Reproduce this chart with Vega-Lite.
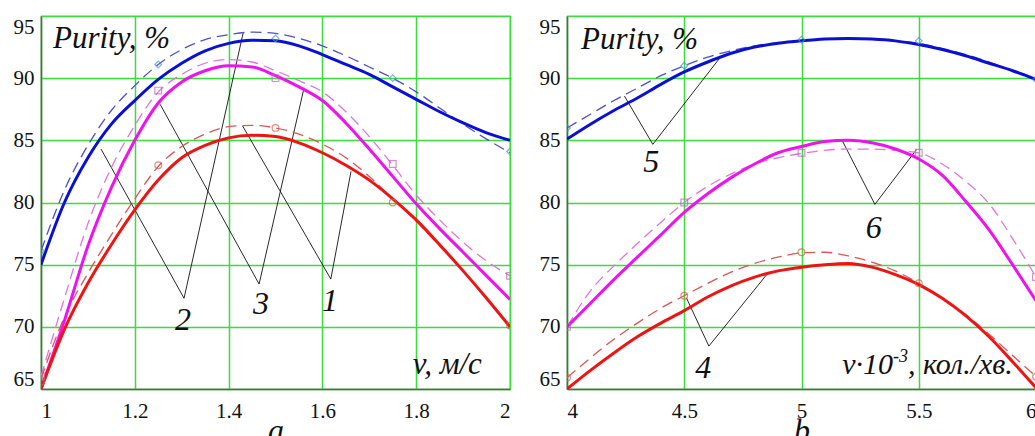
{
  "$schema": "https://vega.github.io/schema/vega-lite/v6.json",
  "padding": {"left": 12, "top": 15, "right": 0, "bottom": 0},
  "background": "white",
  "bounds": "flush",
  "spacing": 57,
  "config": {
    "font": "DejaVu Serif",
    "view": {"stroke": "#808080", "strokeWidth": 1.2},
    "axis": {
      "grid": true, "gridColor": "#3ddc3d", "gridWidth": 1.5, "ticks": false,
      "labelFont": "Liberation Serif", "labelFontSize": 21, "labelColor": "#111111",
      "domainColor": "#606060", "domainWidth": 1.5, "labelFlush": true, "labelOverlap": false,
      "titleFont": "Liberation Serif", "titleFontStyle": "italic", "titleFontWeight": "normal",
      "titleFontSize": 32, "titleColor": "#111111"
    },
    "axisX": {"labelPadding": 11, "titlePadding": -6},
    "axisY": {"labelPadding": 7}
  },
  "datasets": {
    "curvesA": [
      {"x":1,"y":75,"s":"bS"},{"x":1.05,"y":80,"s":"bS"},{"x":1.1,"y":83.6,"s":"bS"},{"x":1.15,"y":86.3,"s":"bS"},{"x":1.2,"y":88.2,"s":"bS"},{"x":1.25,"y":89.9,"s":"bS"},{"x":1.3,"y":91.2,"s":"bS"},{"x":1.35,"y":92.2,"s":"bS"},{"x":1.4,"y":92.8,"s":"bS"},{"x":1.45,"y":93.05,"s":"bS"},{"x":1.5,"y":93.0,"s":"bS"},{"x":1.55,"y":92.6,"s":"bS"},{"x":1.6,"y":91.9,"s":"bS"},{"x":1.65,"y":91.1,"s":"bS"},{"x":1.7,"y":90.3,"s":"bS"},{"x":1.75,"y":89.3,"s":"bS"},{"x":1.8,"y":88.3,"s":"bS"},{"x":1.85,"y":87.3,"s":"bS"},{"x":1.9,"y":86.4,"s":"bS"},{"x":1.95,"y":85.6,"s":"bS"},{"x":2,"y":85.0,"s":"bS"},
      {"x":1,"y":76.1,"s":"bD"},{"x":1.05,"y":81,"s":"bD"},{"x":1.1,"y":84.6,"s":"bD"},{"x":1.15,"y":87.4,"s":"bD"},{"x":1.2,"y":89.4,"s":"bD"},{"x":1.25,"y":91.1,"s":"bD"},{"x":1.3,"y":92.3,"s":"bD"},{"x":1.35,"y":93.1,"s":"bD"},{"x":1.4,"y":93.5,"s":"bD"},{"x":1.45,"y":93.7,"s":"bD"},{"x":1.5,"y":93.6,"s":"bD"},{"x":1.55,"y":93.2,"s":"bD"},{"x":1.6,"y":92.6,"s":"bD"},{"x":1.65,"y":91.8,"s":"bD"},{"x":1.7,"y":90.9,"s":"bD"},{"x":1.75,"y":90.0,"s":"bD"},{"x":1.8,"y":88.9,"s":"bD"},{"x":1.85,"y":87.6,"s":"bD"},{"x":1.9,"y":86.3,"s":"bD"},{"x":1.95,"y":85.1,"s":"bD"},{"x":2,"y":84.0,"s":"bD"},
      {"x":1,"y":65,"s":"mS"},{"x":1.05,"y":70.5,"s":"mS"},{"x":1.1,"y":76.5,"s":"mS"},{"x":1.15,"y":81.2,"s":"mS"},{"x":1.2,"y":85.0,"s":"mS"},{"x":1.25,"y":88.0,"s":"mS"},{"x":1.3,"y":89.7,"s":"mS"},{"x":1.35,"y":90.6,"s":"mS"},{"x":1.4,"y":91.0,"s":"mS"},{"x":1.45,"y":90.9,"s":"mS"},{"x":1.5,"y":90.2,"s":"mS"},{"x":1.55,"y":89.3,"s":"mS"},{"x":1.6,"y":88.2,"s":"mS"},{"x":1.65,"y":86.4,"s":"mS"},{"x":1.7,"y":84.3,"s":"mS"},{"x":1.75,"y":82.1,"s":"mS"},{"x":1.8,"y":79.9,"s":"mS"},{"x":1.85,"y":77.9,"s":"mS"},{"x":1.9,"y":76.0,"s":"mS"},{"x":1.95,"y":74.1,"s":"mS"},{"x":2,"y":72.2,"s":"mS"},
      {"x":1,"y":66,"s":"mD"},{"x":1.05,"y":72.3,"s":"mD"},{"x":1.1,"y":78.3,"s":"mD"},{"x":1.15,"y":82.8,"s":"mD"},{"x":1.2,"y":86.2,"s":"mD"},{"x":1.25,"y":88.9,"s":"mD"},{"x":1.3,"y":90.3,"s":"mD"},{"x":1.35,"y":91.2,"s":"mD"},{"x":1.4,"y":91.5,"s":"mD"},{"x":1.45,"y":91.3,"s":"mD"},{"x":1.5,"y":90.6,"s":"mD"},{"x":1.55,"y":89.8,"s":"mD"},{"x":1.6,"y":88.9,"s":"mD"},{"x":1.65,"y":87.3,"s":"mD"},{"x":1.7,"y":85.3,"s":"mD"},{"x":1.75,"y":83.0,"s":"mD"},{"x":1.8,"y":80.6,"s":"mD"},{"x":1.85,"y":78.6,"s":"mD"},{"x":1.9,"y":76.8,"s":"mD"},{"x":1.95,"y":75.3,"s":"mD"},{"x":2,"y":74.1,"s":"mD"},
      {"x":1,"y":65,"s":"rS"},{"x":1.05,"y":69.8,"s":"rS"},{"x":1.1,"y":73.5,"s":"rS"},{"x":1.15,"y":76.6,"s":"rS"},{"x":1.2,"y":79.4,"s":"rS"},{"x":1.25,"y":81.8,"s":"rS"},{"x":1.3,"y":83.6,"s":"rS"},{"x":1.35,"y":84.6,"s":"rS"},{"x":1.4,"y":85.2,"s":"rS"},{"x":1.45,"y":85.4,"s":"rS"},{"x":1.5,"y":85.3,"s":"rS"},{"x":1.55,"y":84.8,"s":"rS"},{"x":1.6,"y":84.0,"s":"rS"},{"x":1.65,"y":83.0,"s":"rS"},{"x":1.7,"y":81.8,"s":"rS"},{"x":1.75,"y":80.3,"s":"rS"},{"x":1.8,"y":78.6,"s":"rS"},{"x":1.85,"y":76.6,"s":"rS"},{"x":1.9,"y":74.5,"s":"rS"},{"x":1.95,"y":72.3,"s":"rS"},{"x":2,"y":70.0,"s":"rS"},
      {"x":1,"y":65.8,"s":"rD"},{"x":1.05,"y":70.8,"s":"rD"},{"x":1.1,"y":74.3,"s":"rD"},{"x":1.15,"y":77.4,"s":"rD"},{"x":1.2,"y":80.3,"s":"rD"},{"x":1.25,"y":82.9,"s":"rD"},{"x":1.3,"y":84.5,"s":"rD"},{"x":1.35,"y":85.5,"s":"rD"},{"x":1.4,"y":86.1,"s":"rD"},{"x":1.45,"y":86.2,"s":"rD"},{"x":1.5,"y":86.0,"s":"rD"},{"x":1.55,"y":85.5,"s":"rD"},{"x":1.6,"y":84.7,"s":"rD"},{"x":1.65,"y":83.6,"s":"rD"},{"x":1.7,"y":82.1,"s":"rD"},{"x":1.75,"y":80.3,"s":"rD"},{"x":1.8,"y":78.5,"s":"rD"},{"x":1.85,"y":76.5,"s":"rD"},{"x":1.9,"y":74.5,"s":"rD"},{"x":1.95,"y":72.3,"s":"rD"},{"x":2,"y":70.1,"s":"rD"}
    ],
    "curvesB": [
      {"x":4,"y":85.1,"s":"bS"},{"x":4.1,"y":86.3,"s":"bS"},{"x":4.2,"y":87.4,"s":"bS"},{"x":4.3,"y":88.4,"s":"bS"},{"x":4.4,"y":89.5,"s":"bS"},{"x":4.5,"y":90.5,"s":"bS"},{"x":4.6,"y":91.3,"s":"bS"},{"x":4.7,"y":92.0,"s":"bS"},{"x":4.8,"y":92.5,"s":"bS"},{"x":4.9,"y":92.8,"s":"bS"},{"x":5,"y":93.0,"s":"bS"},{"x":5.1,"y":93.15,"s":"bS"},{"x":5.2,"y":93.2,"s":"bS"},{"x":5.3,"y":93.15,"s":"bS"},{"x":5.4,"y":93.0,"s":"bS"},{"x":5.5,"y":92.7,"s":"bS"},{"x":5.6,"y":92.3,"s":"bS"},{"x":5.7,"y":91.8,"s":"bS"},{"x":5.8,"y":91.2,"s":"bS"},{"x":5.9,"y":90.6,"s":"bS"},{"x":6,"y":89.9,"s":"bS"},
      {"x":4,"y":86.0,"s":"bD"},{"x":4.1,"y":87.1,"s":"bD"},{"x":4.2,"y":88.2,"s":"bD"},{"x":4.3,"y":89.2,"s":"bD"},{"x":4.4,"y":90.2,"s":"bD"},{"x":4.5,"y":91.0,"s":"bD"},{"x":4.6,"y":91.7,"s":"bD"},{"x":4.7,"y":92.2,"s":"bD"},{"x":4.8,"y":92.6,"s":"bD"},{"x":4.9,"y":92.85,"s":"bD"},{"x":5,"y":93.0,"s":"bD"},{"x":5.1,"y":93.15,"s":"bD"},{"x":5.2,"y":93.2,"s":"bD"},{"x":5.3,"y":93.15,"s":"bD"},{"x":5.4,"y":93.0,"s":"bD"},{"x":5.5,"y":92.8,"s":"bD"},{"x":5.6,"y":92.4,"s":"bD"},{"x":5.7,"y":91.9,"s":"bD"},{"x":5.8,"y":91.3,"s":"bD"},{"x":5.9,"y":90.6,"s":"bD"},{"x":6,"y":89.9,"s":"bD"},
      {"x":4,"y":70,"s":"mS"},{"x":4.1,"y":71.9,"s":"mS"},{"x":4.2,"y":73.8,"s":"mS"},{"x":4.3,"y":75.6,"s":"mS"},{"x":4.4,"y":77.4,"s":"mS"},{"x":4.5,"y":79.2,"s":"mS"},{"x":4.6,"y":80.7,"s":"mS"},{"x":4.7,"y":82.0,"s":"mS"},{"x":4.8,"y":83.1,"s":"mS"},{"x":4.9,"y":84.0,"s":"mS"},{"x":5,"y":84.5,"s":"mS"},{"x":5.1,"y":84.9,"s":"mS"},{"x":5.2,"y":85.0,"s":"mS"},{"x":5.3,"y":84.8,"s":"mS"},{"x":5.4,"y":84.3,"s":"mS"},{"x":5.5,"y":83.5,"s":"mS"},{"x":5.6,"y":82.2,"s":"mS"},{"x":5.7,"y":80.1,"s":"mS"},{"x":5.8,"y":77.8,"s":"mS"},{"x":5.9,"y":75.0,"s":"mS"},{"x":6,"y":72.1,"s":"mS"},
      {"x":4,"y":70,"s":"mD"},{"x":4.1,"y":72.9,"s":"mD"},{"x":4.2,"y":74.9,"s":"mD"},{"x":4.3,"y":76.7,"s":"mD"},{"x":4.4,"y":78.4,"s":"mD"},{"x":4.5,"y":80.0,"s":"mD"},{"x":4.6,"y":81.3,"s":"mD"},{"x":4.7,"y":82.3,"s":"mD"},{"x":4.8,"y":83.1,"s":"mD"},{"x":4.9,"y":83.6,"s":"mD"},{"x":5,"y":83.95,"s":"mD"},{"x":5.1,"y":84.2,"s":"mD"},{"x":5.2,"y":84.3,"s":"mD"},{"x":5.3,"y":84.3,"s":"mD"},{"x":5.4,"y":84.2,"s":"mD"},{"x":5.5,"y":84.0,"s":"mD"},{"x":5.6,"y":83.1,"s":"mD"},{"x":5.7,"y":81.7,"s":"mD"},{"x":5.8,"y":79.9,"s":"mD"},{"x":5.9,"y":77.1,"s":"mD"},{"x":6,"y":74.0,"s":"mD"},
      {"x":4,"y":65,"s":"rS"},{"x":4.1,"y":66.5,"s":"rS"},{"x":4.2,"y":67.9,"s":"rS"},{"x":4.3,"y":69.2,"s":"rS"},{"x":4.4,"y":70.3,"s":"rS"},{"x":4.5,"y":71.3,"s":"rS"},{"x":4.6,"y":72.4,"s":"rS"},{"x":4.7,"y":73.3,"s":"rS"},{"x":4.8,"y":74.0,"s":"rS"},{"x":4.9,"y":74.5,"s":"rS"},{"x":5,"y":74.8,"s":"rS"},{"x":5.1,"y":75.0,"s":"rS"},{"x":5.2,"y":75.1,"s":"rS"},{"x":5.3,"y":74.8,"s":"rS"},{"x":5.4,"y":74.2,"s":"rS"},{"x":5.5,"y":73.4,"s":"rS"},{"x":5.6,"y":72.3,"s":"rS"},{"x":5.7,"y":70.9,"s":"rS"},{"x":5.8,"y":69.2,"s":"rS"},{"x":5.9,"y":67.2,"s":"rS"},{"x":6,"y":65.1,"s":"rS"},
      {"x":4,"y":65.9,"s":"rD"},{"x":4.1,"y":67.5,"s":"rD"},{"x":4.2,"y":69.0,"s":"rD"},{"x":4.3,"y":70.3,"s":"rD"},{"x":4.4,"y":71.5,"s":"rD"},{"x":4.5,"y":72.5,"s":"rD"},{"x":4.6,"y":73.5,"s":"rD"},{"x":4.7,"y":74.4,"s":"rD"},{"x":4.8,"y":75.1,"s":"rD"},{"x":4.9,"y":75.6,"s":"rD"},{"x":5,"y":75.95,"s":"rD"},{"x":5.1,"y":76.0,"s":"rD"},{"x":5.2,"y":75.7,"s":"rD"},{"x":5.3,"y":75.2,"s":"rD"},{"x":5.4,"y":74.5,"s":"rD"},{"x":5.5,"y":73.5,"s":"rD"},{"x":5.6,"y":72.3,"s":"rD"},{"x":5.7,"y":71.0,"s":"rD"},{"x":5.8,"y":69.4,"s":"rD"},{"x":5.9,"y":67.7,"s":"rD"},{"x":6,"y":66.0,"s":"rD"}
    ],
    "marksA": [
      {"x":1,"y":76.1,"s":"bM"},{"x":1.25,"y":91.1,"s":"bM"},{"x":1.5,"y":93.2,"s":"bM"},{"x":1.75,"y":90.0,"s":"bM"},{"x":2,"y":84.1,"s":"bM"},
      {"x":1,"y":66,"s":"mM"},{"x":1.25,"y":89,"s":"mM"},{"x":1.5,"y":90,"s":"mM"},{"x":1.75,"y":83.1,"s":"mM"},{"x":2,"y":74.1,"s":"mM"},
      {"x":1,"y":65.6,"s":"rM"},{"x":1.25,"y":83,"s":"rM"},{"x":1.5,"y":86,"s":"rM"},{"x":1.75,"y":80,"s":"rM"},{"x":2,"y":70.1,"s":"rM"}
    ],
    "marksB": [
      {"x":4,"y":86,"s":"bM"},{"x":4.5,"y":91,"s":"bM"},{"x":5,"y":93.1,"s":"bM"},{"x":5.5,"y":93,"s":"bM"},{"x":6,"y":89.9,"s":"bM"},
      {"x":4,"y":70,"s":"mM"},{"x":4.5,"y":80,"s":"mM"},{"x":5,"y":84,"s":"mM"},{"x":5.5,"y":84,"s":"mM"},{"x":6,"y":74,"s":"mM"},
      {"x":4,"y":65.9,"s":"rM"},{"x":4.5,"y":72.5,"s":"rM"},{"x":5,"y":76,"s":"rM"},{"x":5.5,"y":73.5,"s":"rM"},{"x":6,"y":66,"s":"rM"}
    ],
    "leadA": [
      {"x":1.128,"y":84.3,"g":"2","o":0},{"x":1.305,"y":72.3,"g":"2","o":1},{"x":1.431,"y":93.63,"g":"2","o":2},
      {"x":1.254,"y":87.9,"g":"3","o":0},{"x":1.465,"y":73.44,"g":"3","o":1},{"x":1.561,"y":89.23,"g":"3","o":2},
      {"x":1.43,"y":86.15,"g":"1","o":0},{"x":1.618,"y":73.84,"g":"1","o":1},{"x":1.661,"y":82.5,"g":"1","o":2}
    ],
    "leadB": [
      {"x":4.245,"y":88.56,"g":"5","o":0},{"x":4.366,"y":84.68,"g":"5","o":1},{"x":4.658,"y":91.78,"g":"5","o":2},
      {"x":5.171,"y":85.08,"g":"6","o":0},{"x":5.313,"y":79.85,"g":"6","o":1},{"x":5.491,"y":84.27,"g":"6","o":2},
      {"x":4.509,"y":72.34,"g":"4","o":0},{"x":4.605,"y":68.45,"g":"4","o":1},{"x":4.858,"y":74.35,"g":"4","o":2}
    ],
    "numA": [{"x":1.303,"y":70.54,"t":"2"},{"x":1.469,"y":71.83,"t":"3"},{"x":1.616,"y":72.07,"t":"1"}],
    "numB": [{"x":4.359,"y":83.25,"t":"5"},{"x":5.308,"y":77.94,"t":"6"},{"x":4.581,"y":66.68,"t":"4"}],
    "headA": [{"x":1.0256,"y":92.43,"t":"Purity, %"}],
    "headB": [{"x":4.06,"y":92.35,"t":"Purity, %"}],
    "unitA": [{"x":1.94,"y":66.2,"t":"v, м/с"}],
    "unitB1": [{"x":5.39,"y":66.2,"t":"v·10"}],
    "unitB2": [{"x":5.39,"y":67.2,"t":"-3"}],
    "unitB3": [{"x":5.454,"y":66.2,"t":", кол./хв."}]
  },
  "hconcat": [
    {
      "width": 469, "height": 373,
      "encoding": {
        "x": {"field": "x", "type": "quantitative", "scale": {"domain": [1, 2], "nice": false, "zero": false},
              "axis": {"values": [1, 1.2, 1.4, 1.6, 1.8, 2], "format": "~g", "title": "a"}},
        "y": {"field": "y", "type": "quantitative", "scale": {"domain": [65, 95], "nice": false, "zero": false},
              "axis": {"values": [65, 70, 75, 80, 85, 90, 95], "title": null}}
      },
      "layer": [
        {"data": {"name": "leadA"}, "mark": {"type": "line", "color": "#111111", "strokeWidth": 0.9},
         "encoding": {"detail": {"field": "g"}, "order": {"field": "o"}}},
        {"data": {"name": "curvesA"}, "transform": [{"filter": "indexof(['bD','mD','rD'], datum.s) >= 0"}],
         "mark": {"type": "line", "interpolate": "monotone", "clip": true, "strokeWidth": 1.3, "strokeDash": [11, 6]},
         "encoding": {"color": {"field": "s", "type": "nominal", "legend": null,
           "scale": {"domain": ["bS","mS","rS","bD","mD","rD","bM","mM","rM"], "range": ["#0a10d2","#ee12ee","#ee1414","#5050c8","#dd77dd","#dd5555","#4a90d0","#c060c0","#d06050"]}}}},
        {"data": {"name": "curvesA"}, "transform": [{"filter": "indexof(['bS','mS','rS'], datum.s) >= 0"}],
         "mark": {"type": "line", "interpolate": "monotone", "clip": true, "strokeWidth": 3},
         "encoding": {"color": {"field": "s", "type": "nominal", "legend": null}}},
        {"data": {"name": "marksA"},
         "mark": {"type": "point", "filled": false, "clip": true, "size": 45, "strokeWidth": 1.2},
         "encoding": {"color": {"field": "s", "type": "nominal", "legend": null},
           "shape": {"field": "s", "type": "nominal", "legend": null, "scale": {"domain": ["bM","mM","rM"], "range": ["diamond","square","circle"]}}}},
        {"data": {"name": "numA"},
         "mark": {"type": "text", "font": "Liberation Serif", "fontStyle": "italic", "fontSize": 32, "align": "center", "baseline": "middle", "color": "#111111"},
         "encoding": {"text": {"field": "t"}}},
        {"data": {"name": "headA"},
         "mark": {"type": "text", "font": "Liberation Serif", "fontStyle": "italic", "fontSize": 31, "align": "left", "baseline": "alphabetic", "color": "#111111"},
         "encoding": {"text": {"field": "t"}}},
        {"data": {"name": "unitA"},
         "mark": {"type": "text", "font": "Liberation Serif", "fontStyle": "italic", "fontSize": 31, "align": "right", "baseline": "alphabetic", "color": "#111111"},
         "encoding": {"text": {"field": "t"}}}
      ]
    },
    {
      "width": 469, "height": 373,
      "encoding": {
        "x": {"field": "x", "type": "quantitative", "scale": {"domain": [4, 6], "nice": false, "zero": false},
              "axis": {"values": [4, 4.5, 5, 5.5, 6], "format": "~g", "title": "b"}},
        "y": {"field": "y", "type": "quantitative", "scale": {"domain": [65, 95], "nice": false, "zero": false},
              "axis": {"values": [65, 70, 75, 80, 85, 90, 95], "title": null}}
      },
      "layer": [
        {"data": {"name": "leadB"}, "mark": {"type": "line", "color": "#111111", "strokeWidth": 0.9},
         "encoding": {"detail": {"field": "g"}, "order": {"field": "o"}}},
        {"data": {"name": "curvesB"}, "transform": [{"filter": "indexof(['bD','mD','rD'], datum.s) >= 0"}],
         "mark": {"type": "line", "interpolate": "monotone", "clip": true, "strokeWidth": 1.3, "strokeDash": [11, 6]},
         "encoding": {"color": {"field": "s", "type": "nominal", "legend": null,
           "scale": {"domain": ["bS","mS","rS","bD","mD","rD","bM","mM","rM"], "range": ["#0a10d2","#ee12ee","#ee1414","#5050c8","#dd77dd","#dd5555","#4a90d0","#c060c0","#d08050"]}}}},
        {"data": {"name": "curvesB"}, "transform": [{"filter": "indexof(['bS','mS','rS'], datum.s) >= 0"}],
         "mark": {"type": "line", "interpolate": "monotone", "clip": true, "strokeWidth": 3},
         "encoding": {"color": {"field": "s", "type": "nominal", "legend": null}}},
        {"data": {"name": "marksB"},
         "mark": {"type": "point", "filled": false, "clip": true, "size": 45, "strokeWidth": 1.2},
         "encoding": {"color": {"field": "s", "type": "nominal", "legend": null},
           "shape": {"field": "s", "type": "nominal", "legend": null, "scale": {"domain": ["bM","mM","rM"], "range": ["diamond","square","circle"]}}}},
        {"data": {"name": "numB"},
         "mark": {"type": "text", "font": "Liberation Serif", "fontStyle": "italic", "fontSize": 32, "align": "center", "baseline": "middle", "color": "#111111"},
         "encoding": {"text": {"field": "t"}}},
        {"data": {"name": "headB"},
         "mark": {"type": "text", "font": "Liberation Serif", "fontStyle": "italic", "fontSize": 31, "align": "left", "baseline": "alphabetic", "color": "#111111"},
         "encoding": {"text": {"field": "t"}}},
        {"data": {"name": "unitB1"},
         "mark": {"type": "text", "font": "Liberation Serif", "fontStyle": "italic", "fontSize": 30, "align": "right", "baseline": "alphabetic", "color": "#111111"},
         "encoding": {"text": {"field": "t"}}},
        {"data": {"name": "unitB2"},
         "mark": {"type": "text", "font": "Liberation Serif", "fontStyle": "italic", "fontSize": 18, "align": "left", "baseline": "alphabetic", "color": "#111111"},
         "encoding": {"text": {"field": "t"}}},
        {"data": {"name": "unitB3"},
         "mark": {"type": "text", "font": "Liberation Serif", "fontStyle": "italic", "fontSize": 30, "align": "left", "baseline": "alphabetic", "color": "#111111"},
         "encoding": {"text": {"field": "t"}}}
      ]
    }
  ]
}
